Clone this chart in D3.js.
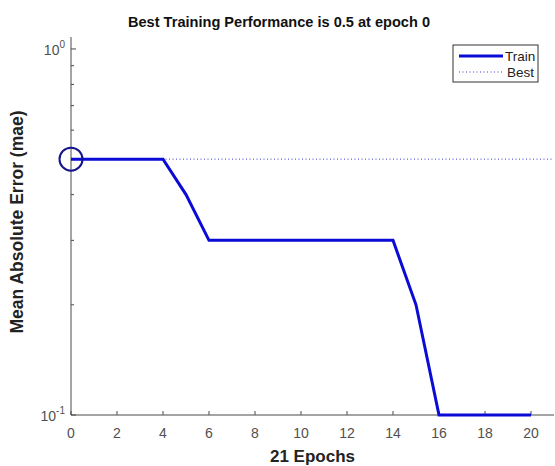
<!DOCTYPE html>
<html><head><meta charset="utf-8">
<script src="https://cdn.jsdelivr.net/npm/d3@7"></script>
<style>body{margin:0;background:#fff;font-family:"Liberation Sans",Arial,sans-serif}</style>
</head><body><svg id="c" width="555" height="466"></svg>
<script>
const epochs = [0,1,2,3,4,5,6,7,8,9,10,11,12,13,14,15,16,17,18,19,20];
const trainValues = [0.5,0.5,0.5,0.5,0.5,0.4,0.3,0.3,0.3,0.3,0.3,0.3,0.3,0.3,0.3,0.2,0.1,0.1,0.1,0.1,0.1];
const bestEpoch = 0, bestValue = 0.5;
const xTicks = [0,2,4,6,8,10,12,14,16,18,20];
const yMajor = [0.1, 1];
const yMinor = [0.2,0.3,0.4,0.5,0.6,0.7,0.8,0.9];
const titleText = "Best Training Performance is 0.5 at epoch 0";
const xLabel = "21 Epochs";
const yLabel = "Mean Absolute Error  (mae)";
const legendLabels = ["Train","Best"];

const svg = d3.select("#c");
const L = 71, R = 554, T = 37, B = 415;
const x = d3.scaleLinear().domain([0,21]).range([L,R]);
const y = d3.scaleLog().domain([0.1, 1.078]).range([B,T]);
const axisColor = "#4a4a4a", tickText = "#505050";
const trainColor = "#0b0bd6", bestColor = "#3a3ad0";

// axes lines (box off)
svg.append("line").attr("x1",L).attr("x2",R).attr("y1",B).attr("y2",B).attr("stroke",axisColor);
svg.append("line").attr("x1",L).attr("x2",L).attr("y1",T).attr("y2",B).attr("stroke",axisColor);

// x ticks (inward)
xTicks.forEach(t=>{
  svg.append("line").attr("x1",x(t)).attr("x2",x(t)).attr("y1",B).attr("y2",B-4).attr("stroke",axisColor);
  svg.append("text").attr("x",x(t)).attr("y",438).attr("text-anchor","middle")
    .attr("font-size",14).attr("fill",tickText).text(t);
});
// y ticks
yMinor.forEach(t=>{
  svg.append("line").attr("x1",L).attr("x2",L+3).attr("y1",y(t)).attr("y2",y(t)).attr("stroke",axisColor);
});
yMajor.forEach(t=>{
  svg.append("line").attr("x1",L).attr("x2",L+5).attr("y1",y(t)).attr("y2",y(t)).attr("stroke",axisColor);
  const tx = svg.append("text").attr("x",L-6).attr("y",y(t)+6).attr("text-anchor","end")
    .attr("font-size",14).attr("fill",tickText);
  tx.append("tspan").text("10");
  tx.append("tspan").attr("dy",-7).attr("font-size",10).text(Math.round(Math.log10(t)));
});

// best dotted line
svg.append("line").attr("x1",x(bestEpoch)).attr("x2",R).attr("y1",y(bestValue)).attr("y2",y(bestValue))
  .attr("stroke",bestColor).attr("stroke-width",1).attr("stroke-dasharray","1,2.5");

// train line
const line = d3.line().x((d,i)=>x(epochs[i])).y(d=>y(d));
svg.append("path").datum(trainValues).attr("d",line).attr("fill","none")
  .attr("stroke",trainColor).attr("stroke-width",3).attr("stroke-linejoin","miter");

// best circle
svg.append("circle").attr("cx",x(bestEpoch)).attr("cy",y(bestValue)).attr("r",11.5)
  .attr("fill","none").attr("stroke","#15158a").attr("stroke-width",2);

// legend
const lg = svg.append("g");
lg.append("rect").attr("x",453).attr("y",45).attr("width",85).attr("height",37)
  .attr("fill","#fff").attr("stroke","#333").attr("stroke-width",1);
lg.append("line").attr("x1",459).attr("x2",503).attr("y1",56).attr("y2",56).attr("stroke",trainColor).attr("stroke-width",3);
lg.append("line").attr("x1",459).attr("x2",503).attr("y1",72).attr("y2",72).attr("stroke",bestColor).attr("stroke-width",1).attr("stroke-dasharray","1,2.5");
lg.append("text").attr("x",505).attr("y",61).attr("font-size",13.5).attr("fill","#222").text(legendLabels[0]);
lg.append("text").attr("x",507).attr("y",77).attr("font-size",13.5).attr("fill","#222").text(legendLabels[1]);

// titles
svg.append("text").attr("x",279).attr("y",27).attr("text-anchor","middle")
  .attr("font-size",15.5).attr("font-weight","bold").attr("fill","#111")
  .attr("textLength",302).attr("lengthAdjust","spacingAndGlyphs").text(titleText);
svg.append("text").attr("x",(L+R)/2).attr("y",462).attr("text-anchor","middle")
  .attr("font-size",17).attr("font-weight","bold").attr("fill","#222").text(xLabel);
svg.append("text").attr("transform",`translate(23,222) rotate(-90)`).attr("text-anchor","middle")
  .attr("font-size",17.5).attr("font-weight","bold").attr("fill","#222").text(yLabel);
</script></body></html>
